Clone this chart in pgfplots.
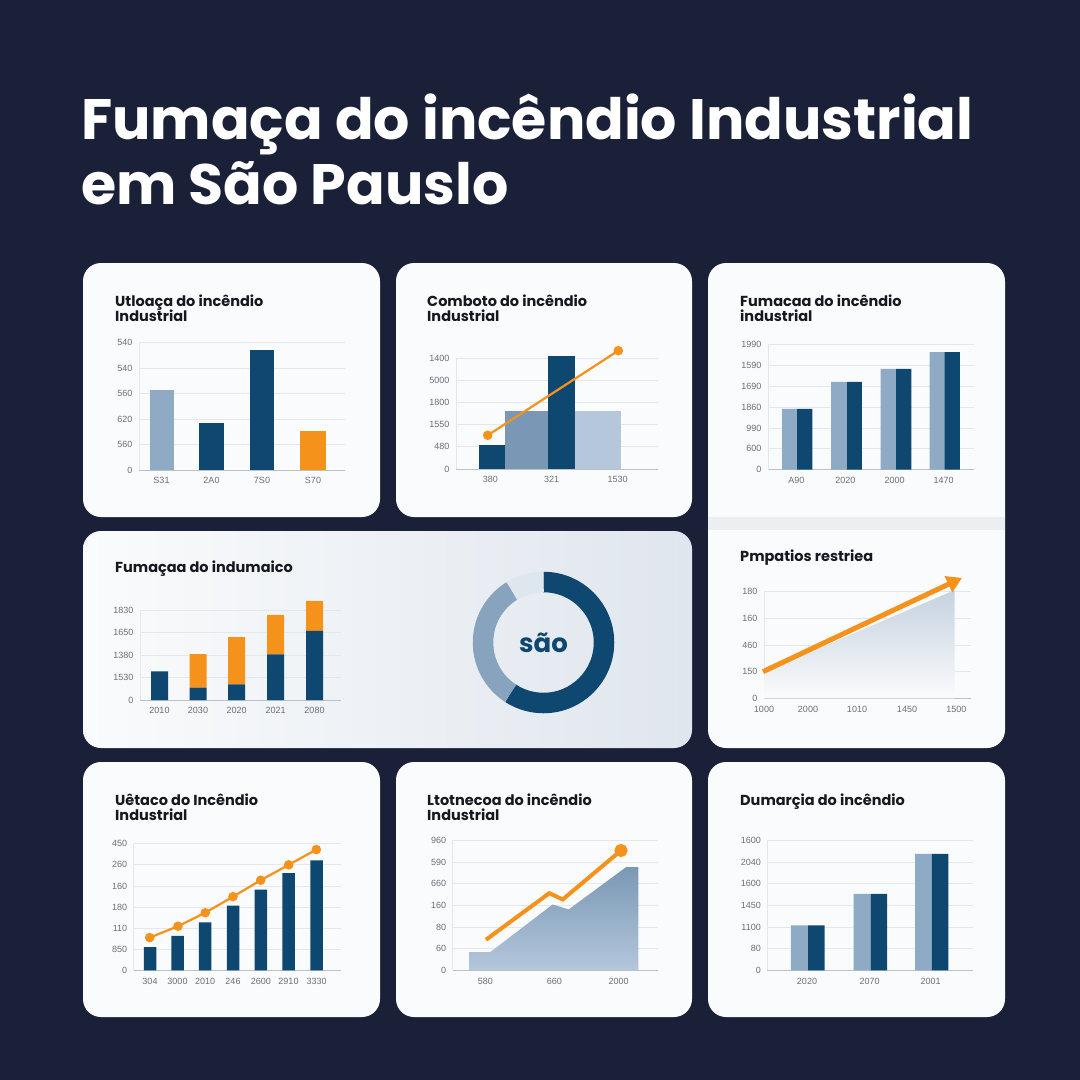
\documentclass[border=0pt]{standalone}
\usepackage{fontspec}
\setmainfont{Poppins}
\newfontfamily\tickfont{Liberation Sans}
\usepackage{pgfplots}
\pgfplotsset{compat=1.18}
\usetikzlibrary{arrows.meta}

\definecolor{bg}{RGB}{26,32,56}
\definecolor{card}{RGB}{250,251,252}
\definecolor{navy}{RGB}{14,72,112}
\definecolor{lblue}{RGB}{143,170,197}
\definecolor{mblue}{RGB}{122,152,181}
\definecolor{pblue}{RGB}{180,199,219}
\definecolor{dmid}{RGB}{135,163,190}
\definecolor{dlight}{RGB}{222,230,238}
\definecolor{orng}{RGB}{245,146,28}
\definecolor{gridc}{RGB}{228,231,236}
\definecolor{basec}{RGB}{188,193,200}
\definecolor{tickc}{RGB}{105,110,120}
\definecolor{ttl}{RGB}{22,24,32}
\definecolor{band}{RGB}{236,238,241}
\definecolor{grad}{RGB}{224,230,238}
\definecolor{areatop}{RGB}{198,210,224}

\pgfplotsset{
 panel/.style={scale only axis, anchor=south west, clip=false,
   axis x line*=bottom, axis y line*=left,
   x axis line style={-, draw=basec, line width=0.9pt},
   y axis line style={-, draw=gridc, line width=0.9pt},
   ymajorgrids, grid style={draw=gridc, line width=0.8pt},
   major tick length=0pt, ymin=0,
   tick label style={font=\tickfont\fontsize{9}{10}\selectfont, text=tickc},
   yticklabel style={xshift=-3pt},
   xticklabel style={yshift=-4pt},
   /pgf/number format/assume math mode=true},
 bb/.style={ybar, bar width=#1, bar shift=0pt, draw=none},
 ol/.style={draw=orng, line width=2.2pt, mark=*, mark size=3.6pt,
   mark options={fill=orng, draw=orng, solid}},
}

\newcommand\ctitle[3]{\node[anchor=base west, inner sep=0, text=ttl,
  font=\bfseries\fontsize{14.5}{16}\selectfont] at (#1pt,-#2pt) {#3};}

\begin{document}
\begin{tikzpicture}
% background
\fill[bg] (0pt,0pt) rectangle (1080pt,-1080pt);
% main title
\node[anchor=base west, inner sep=0, text=white, font=\bfseries\fontsize{57}{65}\selectfont]
  at (81pt,-139pt) {Fumaça do incêndio Industrial};
\node[anchor=base west, inner sep=0, text=white, font=\bfseries\fontsize{57}{65}\selectfont]
  at (81pt,-204pt) {em São Pauslo};

% cards
\fill[card, rounded corners=18pt] (83pt,-263pt) rectangle (380pt,-517pt);
\fill[card, rounded corners=18pt] (396pt,-263pt) rectangle (692pt,-517pt);
\fill[card, rounded corners=18pt] (708pt,-263pt) rectangle (1005pt,-748pt);
\fill[band] (708pt,-517pt) rectangle (1005pt,-530pt);
\shade[rounded corners=18pt, left color=card, middle color=card, right color=grad]
  (83pt,-531pt) rectangle (692pt,-748pt);
\fill[card, rounded corners=18pt] (83pt,-762pt) rectangle (380pt,-1017pt);
\fill[card, rounded corners=18pt] (396pt,-762pt) rectangle (692pt,-1017pt);
\fill[card, rounded corners=18pt] (708pt,-762pt) rectangle (1005pt,-1017pt);

% card titles
\ctitle{115}{306}{Utloaça do incêndio}
\ctitle{115}{321}{Industrial}
\ctitle{427}{306}{Comboto do incêndio}
\ctitle{427}{321}{Industrial}
\ctitle{740}{306}{Fumacaa do incêndio}
\ctitle{740}{321}{industrial}
\ctitle{115}{572}{Fumaçaa do indumaico}
\ctitle{740}{561}{Pmpatios restriea}
\ctitle{115}{805}{Uêtaco do Incêndio}
\ctitle{115}{820}{Industrial}
\ctitle{427}{805}{Ltotnecoa do incêndio}
\ctitle{427}{820}{Industrial}
\ctitle{740}{805}{Dumarçia do incêndio}

% ---------- panel 1 ----------
\begin{axis}[panel, at={(139pt,-470pt)}, width=206pt, height=127.5pt,
  xmin=139, xmax=345, ymax=5, ytick={0,1,2,3,4,5},
  yticklabels={0,560,620,560,540,540},
  xtick={161.5,211.5,262,313}, xticklabels={S31,2A0,7S0,S70}]
\addplot[bb=24, fill=lblue] coordinates {(161.5,3.15)};
\addplot[bb=25, fill=navy] coordinates {(211.5,1.83)};
\addplot[bb=24, fill=navy] coordinates {(262,4.69)};
\addplot[bb=26, fill=orng] coordinates {(313,1.54)};
\end{axis}

% ---------- panel 2 ----------
\begin{axis}[panel, at={(456pt,-469pt)}, width=201.7pt, height=111pt,
  xmin=456, xmax=657.7, ymax=5, ytick={0,1,2,3,4,5},
  yticklabels={0,480,1550,1800,5000,1400},
  xtick={490.3,551.7,617.7}, xticklabels={380,321,1530}]
\addplot[bb=42.4, fill=mblue] coordinates {(526.5,2.6)};
\addplot[bb=46, fill=pblue] coordinates {(598,2.6)};
\addplot[bb=26.6, fill=navy] coordinates {(492,1.07)};
\addplot[bb=27.3, fill=navy] coordinates {(561.35,5.1)};
\addplot[ol] coordinates {(487.7,1.52) (618.3,5.33)};
\end{axis}

% ---------- panel 3 ----------
\begin{axis}[panel, at={(768pt,-469.7pt)}, width=205.7pt, height=125pt,
  xmin=768, xmax=973.7, ymax=6, ytick={0,1,2,3,4,5,6},
  yticklabels={0,600,990,1860,1690,1590,1990},
  xtick={796.3,845.3,894.7,943.7}, xticklabels={A90,2020,2000,1470}]
\addplot[bb=15.3, fill=lblue] coordinates {(789.7,2.92) (838.8,4.22) (888.3,4.84) (937.2,5.64)};
\addplot[bb=15.3, fill=navy] coordinates {(804.8,2.92) (854.2,4.22) (903.7,4.84) (952.2,5.64)};
\end{axis}

% ---------- panel 4 (stacked) ----------
\begin{axis}[panel, at={(140pt,-700pt)}, width=201pt, height=90pt,
  xmin=140, xmax=341, ymax=4, ytick={0,1,2,3,4},
  yticklabels={0,1530,1380,1650,1830},
  xtick={159.5,198,236.7,275.6,314.5}, xticklabels={2010,2030,2020,2021,2080},
  ybar stacked, bar width=17]
\addplot[fill=navy, draw=none] coordinates {(159.5,1.27) (198,0.55) (236.7,0.70) (275.6,2.03) (314.5,3.07)};
\addplot[fill=orng, draw=none] coordinates {(159.5,0) (198,1.49) (236.7,2.10) (275.6,1.75) (314.5,1.34)};
\end{axis}

% ---------- donut ----------
\begin{axis}[hide axis, scale only axis, width=142pt, height=142pt,
  at={(543.5pt,-642.5pt)}, anchor=center, xmin=-1, xmax=1, ymin=-1, ymax=1, clip=false]
\addplot[draw=none] coordinates {(0,0)};
\draw[navy, line width=20.5pt] (axis cs:0,0) ++(90:60.5pt) arc[start angle=90, delta angle=-213, radius=60.5pt];
\draw[dmid, line width=20.5pt] (axis cs:0,0) ++(-123:60.5pt) arc[start angle=-123, delta angle=-115.6, radius=60.5pt];
\draw[dlight, line width=20.5pt] (axis cs:0,0) ++(121.4:60.5pt) arc[start angle=121.4, delta angle=-31.4, radius=60.5pt];
\node[text=navy, font=\bfseries\fontsize{26}{26}\selectfont] at (axis cs:0,0) {são};
\end{axis}

% ---------- panel 5 (arrow) ----------
\begin{axis}[panel, at={(764pt,-698.3pt)}, width=207.3pt, height=106.6pt,
  xmin=764, xmax=971.3, ymax=4, ytick={0,1,2,3,4},
  yticklabels={0,150,460,160,180},
  xtick={764,808,857,907,956.3}, xticklabels={1000,2000,1010,1450,1500}]
\addplot[draw=none, top color=areatop, bottom color=card] coordinates {(764,1.0) (954.7,4.06)} \closedcycle;
\addplot[draw=orng, line width=5pt, -{Triangle[length=15pt, width=17pt]}] coordinates {(763,1.0) (962,4.52)};
\end{axis}

% ---------- panel 6 ----------
\begin{axis}[panel, at={(133.7pt,-970.3pt)}, width=207.6pt, height=126.6pt,
  xmin=133.7, xmax=341.3, ymax=6, ytick={0,1,2,3,4,5,6},
  yticklabels={0,850,110,180,160,260,450},
  xtick={150,177.5,205.2,233,260.8,288.5,316.7},
  xticklabels={304,3000,2010,246,2600,2910,3330}]
\addplot[bb=12.5, fill=navy] coordinates {(150,1.10) (177.5,1.63) (205.2,2.27) (233,3.06) (260.8,3.82) (288.5,4.61) (316.7,5.21)};
\addplot[ol] coordinates {(149.7,1.55) (178,2.09) (205.3,2.73) (233,3.49) (260.7,4.27) (288.7,5.00) (316.3,5.72)};
\end{axis}

% ---------- panel 7 ----------
\begin{axis}[panel, at={(452.7pt,-970.3pt)}, width=205pt, height=130pt,
  xmin=452.7, xmax=657.7, ymax=6, ytick={0,1,2,3,4,5,6},
  yticklabels={0,60,80,160,660,590,960},
  xtick={485.3,554.3,618.7}, xticklabels={580,660,2000}]
\addplot[draw=none, top color=mblue, bottom color=pblue] coordinates {(469.3,0) (469.3,0.84) (490.3,0.84) (552.7,3.04) (568.7,2.81) (626,4.76) (638.3,4.76) (638.3,0)} \closedcycle;
\addplot[draw=orng, line width=4pt, mark=*, mark indices={4}, mark size=4.5pt,
  mark options={fill=orng, draw=orng}] coordinates {(486,1.41) (549.3,3.56) (562.7,3.27) (621,5.53)};
\end{axis}

% ---------- panel 8 ----------
\begin{axis}[panel, at={(767.3pt,-970.3pt)}, width=205.7pt, height=130pt,
  xmin=767.3, xmax=973, ymax=6, ytick={0,1,2,3,4,5,6},
  yticklabels={0,80,1100,1450,1600,2040,1600},
  xtick={807,869.7,930.7}, xticklabels={2020,2070,2001}]
\addplot[bb=17, fill=lblue] coordinates {(799.3,2.07) (862.2,3.53) (923.7,5.37)};
\addplot[bb=16.5, fill=navy] coordinates {(816.3,2.07) (878.8,3.53) (940,5.37)};
\end{axis}
\end{tikzpicture}
\end{document}
